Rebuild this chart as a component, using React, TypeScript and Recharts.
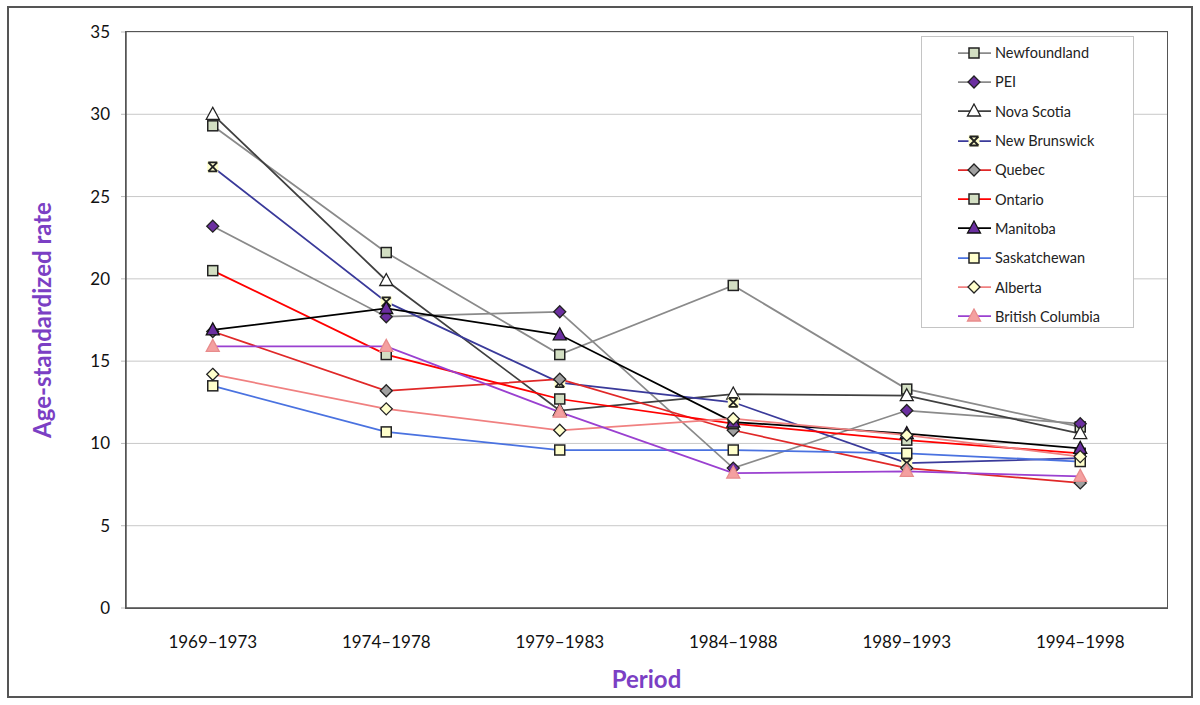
import React from 'react';
import { LineChart, Line, XAxis, YAxis, CartesianGrid, Legend } from 'recharts';

const periods = ['1969–1973', '1974–1978', '1979–1983', '1984–1988', '1989–1993', '1994–1998'];
const yTicks = [0, 5, 10, 15, 20, 25, 30, 35];

const newfoundland = [29.3, 21.6, 15.4, 19.6, 13.3, 11.0];
const pei = [23.2, 17.7, 18.0, 8.5, 12.0, 11.2];
const novaScotia = [30.0, 19.9, 12.0, 13.0, 12.9, 10.6];
const newBrunswick = [26.8, 18.6, 13.7, 12.5, 8.8, 9.1];
const quebec = [16.8, 13.2, 13.9, 10.8, 8.5, 7.6];
const ontario = [20.5, 15.4, 12.7, 11.2, 10.2, 9.4];
const manitoba = [16.9, 18.2, 16.6, 11.3, 10.6, 9.7];
const saskatchewan = [13.5, 10.7, 9.6, 9.6, 9.4, 8.9];
const alberta = [14.2, 12.1, 10.8, 11.5, 10.5, 9.2];
const britishColumbia = [15.9, 15.9, 11.9, 8.2, 8.3, 8.0];

type Shape = 'square' | 'diamond' | 'triangle' | 'x';

const SERIES: { key: string; name: string; values: number[]; line: string; shape: Shape; fill: string; stroke: string }[] = [
  { key: 'nfl', name: 'Newfoundland', values: newfoundland, line: '#8a8a8a', shape: 'square', fill: '#d3dfc3', stroke: '#222' },
  { key: 'pei', name: 'PEI', values: pei, line: '#8a8a8a', shape: 'diamond', fill: '#6b2fa0', stroke: '#222' },
  { key: 'ns', name: 'Nova Scotia', values: novaScotia, line: '#404040', shape: 'triangle', fill: '#ffffff', stroke: '#222' },
  { key: 'nb', name: 'New Brunswick', values: newBrunswick, line: '#3a3a9a', shape: 'x', fill: '#ffffcc', stroke: '#222' },
  { key: 'qc', name: 'Quebec', values: quebec, line: '#e02828', shape: 'diamond', fill: '#a0a0a0', stroke: '#222' },
  { key: 'on', name: 'Ontario', values: ontario, line: '#ff0000', shape: 'square', fill: '#d3dfc3', stroke: '#222' },
  { key: 'mb', name: 'Manitoba', values: manitoba, line: '#000000', shape: 'triangle', fill: '#6b2fa0', stroke: '#111' },
  { key: 'sk', name: 'Saskatchewan', values: saskatchewan, line: '#4a72e0', shape: 'square', fill: '#ffffcc', stroke: '#222' },
  { key: 'ab', name: 'Alberta', values: alberta, line: '#f08080', shape: 'diamond', fill: '#ffffcc', stroke: '#222' },
  { key: 'bc', name: 'British Columbia', values: britishColumbia, line: '#9a40d0', shape: 'triangle', fill: '#f4a0a0', stroke: '#e88c8c' },
];

const data = periods.map((p, i) => {
  const row: Record<string, string | number> = { period: p };
  SERIES.forEach(s => { row[s.key] = s.values[i]; });
  return row;
});

const PURPLE = '#7b3fc4';
const FONT = 'Lato, "Open Sans", sans-serif';

// plot box inside the 1200x705 chart
const PLOT = { left: 126, top: 32, right: 1167, bottom: 608 };
const HALF_BAND = (PLOT.right - PLOT.left) / periods.length / 2;

const Marker = ({ cx, cy, shape, fill, stroke }: { cx: number; cy: number; shape: Shape; fill: string; stroke: string }) => {
  if (shape === 'square') {
    return <rect x={cx - 5} y={cy - 5} width={10} height={10} fill={fill} stroke={stroke} strokeWidth={1.5} />;
  }
  if (shape === 'diamond') {
    return <polygon points={`${cx},${cy - 6} ${cx + 6},${cy} ${cx},${cy + 6} ${cx - 6},${cy}`} fill={fill} stroke={stroke} strokeWidth={1.3} />;
  }
  if (shape === 'triangle') {
    return <polygon points={`${cx},${cy - 7} ${cx + 6.5},${cy + 5} ${cx - 6.5},${cy + 5}`} fill={fill} stroke={stroke} strokeWidth={1.3} />;
  }
  return (
    <g>
      <rect x={cx - 5.5} y={cy - 5.5} width={11} height={11} fill={fill} />
      <path d={`M${cx - 4.5},${cy - 4.5}L${cx + 4.5},${cy + 4.5}M${cx + 4.5},${cy - 4.5}L${cx - 4.5},${cy + 4.5}M${cx - 4.5},${cy - 4.5}L${cx + 4.5},${cy - 4.5}M${cx - 4.5},${cy + 4.5}L${cx + 4.5},${cy + 4.5}`} stroke={stroke} strokeWidth={1.8} fill="none" />
    </g>
  );
};

const dotFor = (s: typeof SERIES[number]) => (props: any) => {
  const { cx, cy, index } = props;
  return <Marker key={`${s.key}-${index}`} cx={cx} cy={cy} shape={s.shape} fill={s.fill} stroke={s.stroke} />;
};

const LegendBox = () => (
  <div style={{ width: 213, height: 292, border: '1px solid #c4c4c4', background: '#fff', boxSizing: 'border-box', paddingTop: 1 }}>
    {SERIES.map(s => (
      <div key={s.key} style={{ display: 'flex', alignItems: 'center', height: 29.3 }}>
        <svg width={72} height={16} style={{ flex: 'none' }}>
          <line x1={36} x2={69} y1={8} y2={8} stroke={s.line} strokeWidth={1.75} />
          <Marker cx={52} cy={8} shape={s.shape} fill={s.fill} stroke={s.stroke} />
        </svg>
        <span style={{ fontFamily: FONT, fontSize: 14.5, color: '#222', marginLeft: 1 }}>{s.name}</span>
      </div>
    ))}
  </div>
);

export default function App() {
  return (
    <div style={{ position: 'absolute', left: 0, top: 0, width: 1200, height: 705, background: '#fff' }}>
      <div style={{ position: 'absolute', left: 7, top: 6, width: 1186, height: 692, border: '2px solid #555', boxSizing: 'border-box' }} />
      <div style={{ position: 'absolute', left: 0, top: 0 }}>
        <LineChart width={1200} height={705} data={data} margin={{ top: PLOT.top, right: 1200 - PLOT.right, bottom: 0, left: 0 }} style={{ fontFamily: FONT }}>
          <CartesianGrid horizontal vertical={false} stroke="#c8c8c8" strokeWidth={1} />
          <XAxis
            dataKey="period"
            height={705 - PLOT.bottom}
            padding={{ left: HALF_BAND, right: HALF_BAND }}
            axisLine={{ stroke: '#555', strokeWidth: 1.5 }}
            tickLine={false}
            tickMargin={22}
            tick={{ fill: '#111', fontSize: 17 }}
            interval={0}
            label={(p: any) => {
              const vb = p.viewBox;
              return (
                <text x={vb.x + vb.width / 2} y={vb.y + 70} textAnchor="middle" dominantBaseline="central" fill={PURPLE} fontSize={24} fontWeight={700} fontFamily={FONT}>
                  Period
                </text>
              );
            }}
          />
          <YAxis
            width={PLOT.left}
            domain={[0, 35]}
            ticks={yTicks}
            interval={0}
            axisLine={{ stroke: '#555', strokeWidth: 1.5 }}
            tickLine={{ stroke: '#bbb' }}
            tickSize={5}
            tickMargin={11}
            tick={{ fill: '#111', fontSize: 17 }}
            label={(p: any) => {
              const vb = p.viewBox;
              const x = vb.x + 41;
              const y = vb.y + vb.height / 2;
              return (
                <text x={x} y={y} transform={`rotate(-90 ${x} ${y})`} textAnchor="middle" dominantBaseline="central" fill={PURPLE} fontSize={24} fontWeight={700} fontFamily={FONT}>
                  Age-standardized rate
                </text>
              );
            }}
          />
          <Legend
            layout="vertical"
            verticalAlign="middle"
            align="center"
            content={<LegendBox />}
            wrapperStyle={{ top: 36, left: 921, width: 213, height: 292, right: 'auto', bottom: 'auto' }}
          />
          {SERIES.map(s => (
            <Line
              key={s.key}
              type="linear"
              dataKey={s.key}
              name={s.name}
              stroke={s.line}
              strokeWidth={1.75}
              dot={dotFor(s)}
              activeDot={false}
              isAnimationActive={false}
            />
          ))}
        </LineChart>
      </div>
      {/* plot area frame */}
      <div
        style={{
          position: 'absolute',
          left: PLOT.left - 1,
          top: PLOT.top - 1,
          width: PLOT.right - PLOT.left + 2,
          height: PLOT.bottom - PLOT.top + 2,
          border: '1.5px solid #555',
          boxSizing: 'border-box',
          pointerEvents: 'none',
        }}
      />
    </div>
  );
}
